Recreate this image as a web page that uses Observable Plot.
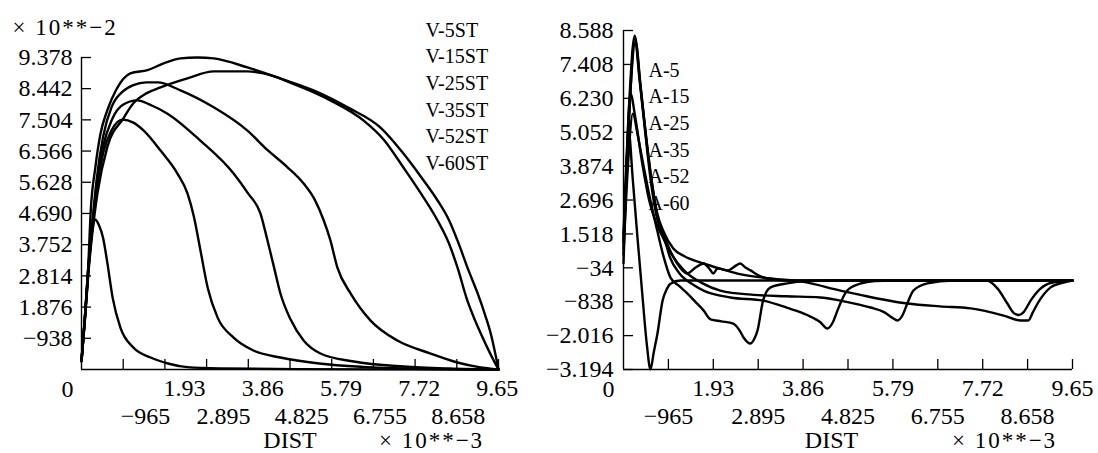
<!DOCTYPE html>
<html><head><meta charset="utf-8">
<script src="https://cdn.jsdelivr.net/npm/d3@7"></script>
<script src="https://cdn.jsdelivr.net/npm/@observablehq/plot@0.6"></script>
<style>
html,body{margin:0;padding:0;background:#fff;}
#wrap{display:flex;width:1098px;height:453px;overflow:hidden;}
#wrap svg{flex:none;display:block;}
</style></head><body><div id="wrap"></div>
<script>
// ---------------- data ----------------
const distTicks = [0.965, 1.93, 2.895, 3.86, 4.825, 5.79, 6.755, 7.72, 8.685, 9.65];
const distRow1 = [1.93, 3.86, 5.79, 7.72, 9.65];
const distRow1Labels = ["1.93", "3.86", "5.79", "7.72", "9.65"];
const distRow2 = [0.965, 2.895, 4.825, 6.755, 8.685];
const distRow2Labels = ["−965", "2.895", "4.825", "6.755", "8.658"];

const velTicks = [0.938, 1.876, 2.814, 3.752, 4.690, 5.628, 6.566, 7.504, 8.442, 9.378];
const velTickLabels = ["−938", "1.876", "2.814", "3.752", "4.690", "5.628", "6.566", "7.504", "8.442", "9.378"];
const accTicks = [-3.194, -2.016, -0.838, 0.34, 1.518, 2.696, 3.874, 5.052, 6.230, 7.408, 8.588];
const accTickLabels = ["−3.194", "−2.016", "−838", "−34", "1.518", "2.696", "3.874", "5.052", "6.230", "7.408", "8.588"];

const velNames = ["V-5ST", "V-15ST", "V-25ST", "V-35ST", "V-52ST", "V-60ST"];
const accNames = ["A-5", "A-15", "A-25", "A-35", "A-52", "A-60"];

const v5st = [[0,0.25],[0.08,1.6],[0.16,3.1],[0.25,4.2],[0.32,4.5],[0.4,4.35],[0.5,3.95],[0.6,3.19],[0.72,2.16],[0.9,1.26],[1.2,0.66],[1.6,0.36],[2.0,0.18],[2.45,0.07],[3.2,0.03],[5.0,0.01],[9.65,0]];
const v15st = [[0,0.25],[0.08,1.55],[0.16,3.0],[0.25,4.25],[0.35,5.4],[0.5,6.5],[0.7,7.2],[0.95,7.51],[1.2,7.42],[1.44,7.18],[1.83,6.58],[2.22,5.89],[2.45,5.3],[2.6,4.6],[2.75,3.6],[2.92,2.46],[3.15,1.56],[3.52,0.96],[3.98,0.57],[4.6,0.36],[5.5,0.18],[6.5,0.08],[7.5,0.03],[9.65,0]];
const v25st = [[0,0.25],[0.08,1.55],[0.16,3.0],[0.25,4.3],[0.35,5.5],[0.5,6.7],[0.7,7.5],[0.95,7.95],[1.29,8.09],[1.6,7.95],[1.99,7.69],[2.75,6.88],[3.52,5.89],[3.85,5.3],[4.14,4.69],[4.3,3.9],[4.45,3.1],[4.6,2.3],[4.84,1.5],[5.14,0.87],[5.53,0.48],[6.3,0.24],[7.45,0.09],[8.5,0.03],[9.65,0]];
const v35st = [[0,0.25],[0.08,1.6],[0.16,3.1],[0.25,4.4],[0.35,5.7],[0.5,7.0],[0.7,7.9],[0.95,8.35],[1.2,8.55],[1.5,8.63],[1.76,8.63],[2.29,8.39],[3.06,7.88],[3.84,7.18],[4.3,6.6],[4.75,6.1],[5.14,5.59],[5.4,5.1],[5.6,4.5],[5.76,3.88],[5.92,3.07],[6.23,2.28],[6.69,1.47],[7.31,0.87],[8.08,0.48],[8.7,0.21],[9.2,0.07],[9.65,0]];
const v52st = [[0,0.25],[0.08,1.5],[0.16,2.9],[0.25,4.1],[0.37,5.3],[0.6,6.7],[0.97,7.55],[1.2,8.0],[1.5,8.3],[1.83,8.48],[2.45,8.75],[3.06,8.96],[3.84,8.96],[4.21,8.9],[4.99,8.54],[5.76,8.09],[6.53,7.48],[7.0,6.9],[7.45,6.07],[7.85,5.3],[8.24,4.48],[8.5,3.8],[8.7,3.07],[8.93,2.07],[9.1,1.5],[9.24,1.08],[9.45,0.5],[9.65,0]];
const v60st = [[0,0.25],[0.08,1.6],[0.16,3.2],[0.21,4.69],[0.32,6.07],[0.44,7.09],[0.6,7.8],[0.8,8.4],[1.13,8.9],[1.53,9.0],[1.9,9.2],[2.29,9.35],[2.68,9.38],[3.06,9.35],[3.84,9.08],[4.6,8.75],[5.37,8.39],[6.16,7.88],[6.92,7.27],[7.45,6.49],[7.85,5.8],[8.24,5.08],[8.5,4.5],[8.7,3.88],[8.95,3.0],[9.17,2.28],[9.35,1.6],[9.47,1.08],[9.65,0]];

const a5 = [[0,0.5],[0.05,3.0],[0.11,5.1],[0.2,3.4],[0.3,1.4],[0.4,-0.5],[0.5,-2.3],[0.58,-3.19],[0.65,-2.6],[0.73,-1.94],[0.84,-0.8],[0.93,-0.4],[1.01,-0.21],[1.22,-0.1],[9.65,-0.1]];
const a15 = [[0,0.8],[0.1,4.0],[0.2,5.7],[0.3,5.0],[0.37,4.4],[0.55,2.9],[0.73,1.6],[0.85,0.8],[1.01,0.0],[1.2,-0.3],[1.37,-0.55],[1.55,-0.85],[1.72,-1.14],[1.87,-1.45],[2.1,-1.52],[2.36,-1.6],[2.5,-1.85],[2.58,-2.08],[2.73,-2.29],[2.82,-2.1],[2.88,-1.84],[3.0,-0.8],[3.16,-0.34],[3.52,-0.2],[3.95,-0.12],[4.4,-0.1],[9.65,-0.1]];
const a25 = [[0,1.2],[0.12,5.5],[0.24,8.3],[0.35,6.8],[0.47,5.0],[0.6,3.2],[0.73,2.0],[0.86,1.45],[1.0,0.7],[1.2,0.15],[1.5,-0.25],[1.72,-0.45],[2.3,-0.69],[3.0,-0.8],[3.52,-1.05],[3.95,-1.3],[4.23,-1.55],[4.38,-1.77],[4.5,-1.55],[4.6,-1.14],[4.7,-0.75],[4.81,-0.45],[5.09,-0.21],[5.4,-0.12],[5.8,-0.1],[9.65,-0.1]];
const a35 = [[0,1.0],[0.08,4.5],[0.15,6.4],[0.25,5.6],[0.4,4.0],[0.55,2.7],[0.7,1.9],[0.86,1.35],[1.0,0.9],[1.3,0.25],[1.7,-0.2],[2.08,-0.45],[2.8,-0.6],[3.5,-0.65],[4.23,-0.69],[4.66,-0.8],[5.09,-0.95],[5.31,-1.04],[5.6,-1.2],[5.78,-1.4],[5.89,-1.49],[6.0,-1.3],[6.1,-0.9],[6.23,-0.45],[6.53,-0.2],[7.09,-0.1],[9.65,-0.1]];
const a52 = [[0,1.3],[0.13,6.0],[0.26,8.2],[0.37,6.6],[0.5,4.7],[0.62,3.2],[0.73,2.1],[0.86,1.5],[1.0,0.95],[1.15,0.5],[1.37,0.14],[1.55,0.35],[1.72,0.49],[1.85,0.3],[1.93,0.14],[2.02,0.32],[2.24,0.25],[2.4,0.4],[2.51,0.49],[2.62,0.35],[2.73,0.25],[2.9,0.08],[3.09,-0.03],[3.59,-0.1],[7.8,-0.1],[8.05,-0.4],[8.25,-0.9],[8.4,-1.25],[8.5,-1.3],[8.6,-1.2],[8.75,-0.8],[8.95,-0.4],[9.2,-0.18],[9.65,-0.1]];
const a60 = [[0,1.5],[0.12,6.0],[0.24,8.41],[0.35,6.9],[0.47,5.1],[0.6,3.4],[0.73,2.2],[0.86,1.6],[1.07,1.01],[1.3,0.75],[1.72,0.49],[2.1,0.3],[2.45,0.14],[3.16,-0.03],[3.87,-0.15],[4.66,-0.45],[5.09,-0.6],[6.1,-0.9],[6.8,-1.0],[7.46,-1.07],[8.17,-1.32],[8.53,-1.49],[8.7,-1.49],[8.8,-1.2],[8.9,-0.9],[9.18,-0.34],[9.46,-0.17],[9.65,-0.1]];

const velSeries = [v5st, v15st, v25st, v35st, v52st, v60st];
const accSeries = [a5, a15, a25, a35, a52, a60];

// ---------------- drawing ----------------
const FONT = "Liberation Serif, Times New Roman, serif";
const tidy = (names, series) => names.flatMap((n, i) => series[i].map(([x, y]) => ({name: n, x, y})));

function panel(opts) {
  const {width, height, mt, mr, mb, ml, yDomain, yTicks, yLabels, names, series,
         labelX, zeroDx, yLabelDx, distDx, expDx, legendDx, legendDy, extraMarks} = opts;
  const fw = width - ml - mr, fh = height - mt - mb;
  const lab = {textAnchor: "middle", lineAnchor: "middle", fontSize: 24};
  return Plot.plot({
    width, height, marginTop: mt, marginRight: mr, marginBottom: mb, marginLeft: ml,
    style: {fontFamily: FONT, background: "white", color: "black", overflow: "visible"},
    x: {domain: [0, 9.65], axis: null},
    y: {domain: yDomain, axis: null},
    marks: [
      Plot.ruleX([0], {stroke: "black", strokeWidth: 1.4}),
      Plot.ruleY([yDomain[0]], {stroke: "black", strokeWidth: 1.4}),
      Plot.tickY(yTicks, {y: d => d, insetRight: fw - 10, stroke: "black", strokeWidth: 1.3}),
      Plot.tickX(distTicks, {x: d => d, insetTop: fh - 10, stroke: "black", strokeWidth: 1.3}),
      Plot.text(yTicks, {y: d => d, text: (d, i) => yLabels[i], frameAnchor: "left", textAnchor: "end", lineAnchor: "middle", dx: yLabelDx, fontSize: 24}),
      Plot.text(distRow1, {x: labelX, text: (d, i) => distRow1Labels[i], frameAnchor: "bottom", dy: 19, ...lab}),
      Plot.text(distRow2, {x: labelX, text: (d, i) => distRow2Labels[i], frameAnchor: "bottom", dy: 47, ...lab}),
      Plot.text(["0"], {frameAnchor: "bottom-left", dx: zeroDx, dy: 20, ...lab}),
      Plot.text(["DIST"], {frameAnchor: "bottom-left", dx: distDx, dy: 71, ...lab}),
      Plot.text(["× 10**−3"], {frameAnchor: "bottom-left", dx: expDx, dy: 71, ...lab, fontSize: 23}),
      Plot.text([names.join("\n")], {frameAnchor: "top-left", textAnchor: "start", lineAnchor: "top",
        lineHeight: 1.33, dx: legendDx, dy: legendDy, fontSize: 20}),
      Plot.line(tidy(names, series), {x: "x", y: "y", z: "name", stroke: "black", strokeWidth: 2.4,
        curve: "monotone-x", strokeLinejoin: "round"}),
      ...(extraMarks || [])
    ]
  });
}

const left = panel({
  width: 549, height: 453, mt: 57, mr: 51, mb: 84, ml: 81,
  yDomain: [0, 9.378], yTicks: velTicks, yLabels: velTickLabels,
  names: velNames, series: velSeries,
  // tick labels of this panel sit on a slightly compressed spacing (as in the original output)
  labelX: d => 0.574 + 0.9378 * d,
  zeroDx: -14, yLabelDx: -9, distDx: 208.5, expDx: 350,
  legendDx: 344, legendDy: -39.6,
  extraMarks: [Plot.text(["× 10**−2"], {frameAnchor: "top-left", textAnchor: "start", lineAnchor: "middle", dx: -69, dy: -30, fontSize: 23})]
});

const right = panel({
  width: 549, height: 453, mt: 30, mr: 26, mb: 84, ml: 74,
  yDomain: [-3.194, 8.588], yTicks: accTicks, yLabels: accTickLabels,
  names: accNames, series: accSeries,
  labelX: d => d,
  zeroDx: -15, yLabelDx: -10, distDx: 208, expDx: 381,
  legendDx: 25, legendDy: 27.4
});

for (const svg of [left, right]) {
  d3.select(svg).selectAll("text")
    .filter(function () { return this.textContent.includes("10**"); })
    .style("letter-spacing", "2px");
}

document.getElementById("wrap").append(left, right);
</script></body></html>
